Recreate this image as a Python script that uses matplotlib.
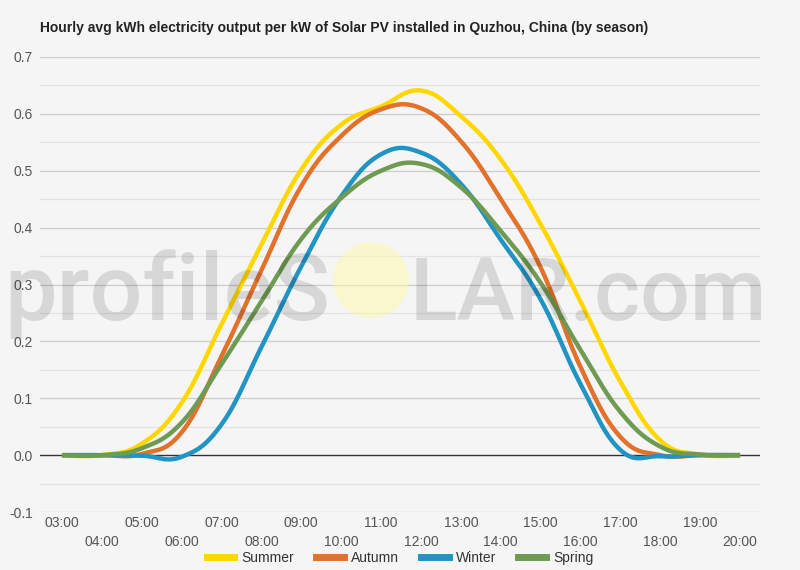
import numpy as np
import matplotlib
matplotlib.use("Agg")
import matplotlib.pyplot as plt
from matplotlib.patches import Circle
from matplotlib.lines import Line2D

hours = list(range(3, 21))
hour_labels = [f"{h:02d}:00" for h in hours]

summer = [0, 0, 0.02, 0.092, 0.23, 0.37, 0.502, 0.581, 0.613, 0.641, 0.596, 0.52, 0.406, 0.27, 0.129, 0.026, 0.001, 0]
autumn = [0, 0, 0.002, 0.04, 0.174, 0.325, 0.473, 0.561, 0.608, 0.61, 0.552, 0.45, 0.33, 0.155, 0.032, 0.0, 0, 0]
winter = [0, 0, -0.001, -0.003, 0.054, 0.19, 0.332, 0.455, 0.529, 0.532, 0.477, 0.379, 0.274, 0.125, 0.009, -0.002, 0, 0]
spring = [0, 0, 0.012, 0.057, 0.16, 0.27, 0.38, 0.452, 0.5, 0.512, 0.471, 0.394, 0.303, 0.185, 0.076, 0.015, 0.001, 0]

series_names = ["Summer", "Autumn", "Winter", "Spring"]
series_values = [summer, autumn, winter, spring]
series_colors = ["#FFD700", "#E2712B", "#2194C4", "#6E9A52"]

title = "Hourly avg kWh electricity output per kW of Solar PV installed in Quzhou, China (by season)"


def spline(xs, ys, smoothing=1.5, n=30):
    """Highcharts-style spline through the points."""
    xs = np.asarray(xs, float)
    ys = np.asarray(ys, float)
    m = len(xs)
    denom = smoothing + 1
    lc = np.zeros((m, 2))
    rc = np.zeros((m, 2))
    for i in range(m):
        px, py = xs[i], ys[i]
        if 0 < i < m - 1:
            lx = (smoothing * px + xs[i - 1]) / denom
            ly = (smoothing * py + ys[i - 1]) / denom
            rx = (smoothing * px + xs[i + 1]) / denom
            ry = (smoothing * py + ys[i + 1]) / denom
            if rx != lx:
                corr = ((ry - ly) * (rx - px)) / (rx - lx) + py - ry
                ly += corr
                ry += corr
            lc[i] = (lx, ly)
            rc[i] = (rx, ry)
        else:
            lc[i] = (px, py)
            rc[i] = (px, py)
    out_x, out_y = [xs[0]], [ys[0]]
    t = np.linspace(0, 1, n)[1:]
    for i in range(1, m):
        p0 = np.array([xs[i - 1], ys[i - 1]])
        p1 = rc[i - 1]
        p2 = lc[i]
        p3 = np.array([xs[i], ys[i]])
        pts = ((1 - t) ** 3)[:, None] * p0 + (3 * (1 - t) ** 2 * t)[:, None] * p1 \
            + (3 * (1 - t) * t ** 2)[:, None] * p2 + (t ** 3)[:, None] * p3
        out_x.extend(pts[:, 0])
        out_y.extend(pts[:, 1])
    return np.array(out_x), np.array(out_y)


plt.rcParams['font.family'] = ['Liberation Sans', 'DejaVu Sans']

bg = "#f5f5f5"
W, H = 800, 570
fig = plt.figure(figsize=(8, 5.7), dpi=100, facecolor=bg)
ax = fig.add_axes([0.05, 1 - 512 / H, 0.90, (512 - 57) / H])
ax.set_facecolor(bg)

x_idx = np.arange(len(hours))
ax.set_xlim(-0.55, len(hours) - 1 + 0.5)
ax.set_ylim(-0.1, 0.7)

# grid
for v in np.arange(-0.1, 0.701, 0.1):
    if abs(v) > 1e-9:
        ax.axhline(v, color="#cccccc", lw=0.9, zorder=0)
for v in np.arange(-0.05, 0.70, 0.1):
    ax.axhline(v, color="#e3e3e3", lw=0.9, zorder=0)
ax.axhline(0, color="#333333", lw=1.0, zorder=1)

for name, vals, col in zip(series_names, series_values, series_colors):
    sx, sy = spline(x_idx, vals)
    ax.plot(sx, sy, color=col, lw=3.2, solid_capstyle='butt', zorder=3, label=name)

for s in ax.spines.values():
    s.set_visible(False)

ax.set_yticks(np.round(np.arange(-0.1, 0.71, 0.1), 1))
ax.set_yticklabels(["-0.1", "0.0", "0.1", "0.2", "0.3", "0.4", "0.5", "0.6", "0.7"])
ax.tick_params(axis='y', length=0, pad=5, labelsize=10, labelcolor="#555555")
ax.set_xticks(x_idx)
ax.set_xticklabels(hour_labels)
ax.tick_params(axis='x', length=0, labelsize=10, labelcolor="#555555")
for i, tk in enumerate(ax.xaxis.get_major_ticks()):
    tk.set_pad(3 if i % 2 == 0 else 16.5)

# watermark, fitted to its place in the reference
wm_family = ["Roboto", "Open Sans", "DejaVu Sans"]
renderer = fig.canvas.get_renderer()


def fitted_text(s, x0, x1, ybase):
    t = fig.text(x0 / W, 1 - ybase / H, s, fontsize=60, color="#000000", alpha=0.12,
                 ha="left", va="baseline", family=wm_family, fontweight="medium", zorder=10)
    bb = t.get_window_extent(renderer)
    t.set_fontsize(60 * (x1 - x0) / bb.width)
    return t


fitted_text("profileS", 4, 330, 320)
fitted_text("LAR.com", 410, 768, 320)
fig.patches.append(Circle((371, H - 280), 38, transform=None, facecolor="#fff7a8",
                          alpha=0.5, edgecolor="none", zorder=9))

fig.text(40 / W, 1 - 28 / H, title, fontsize=10, fontweight="bold",
         color="#222222", ha="left", va="center")

handles = [Line2D([0], [0], color=c, lw=5) for c in series_colors]
fig.legend(handles, series_names, loc="center", bbox_to_anchor=(0.5, 1 - 558 / H),
           ncol=4, frameon=False, fontsize=10, handlelength=2.0, handletextpad=0.5,
           columnspacing=1.6, labelcolor="#333333")

fig.savefig("out.png", dpi=100, facecolor=bg)
